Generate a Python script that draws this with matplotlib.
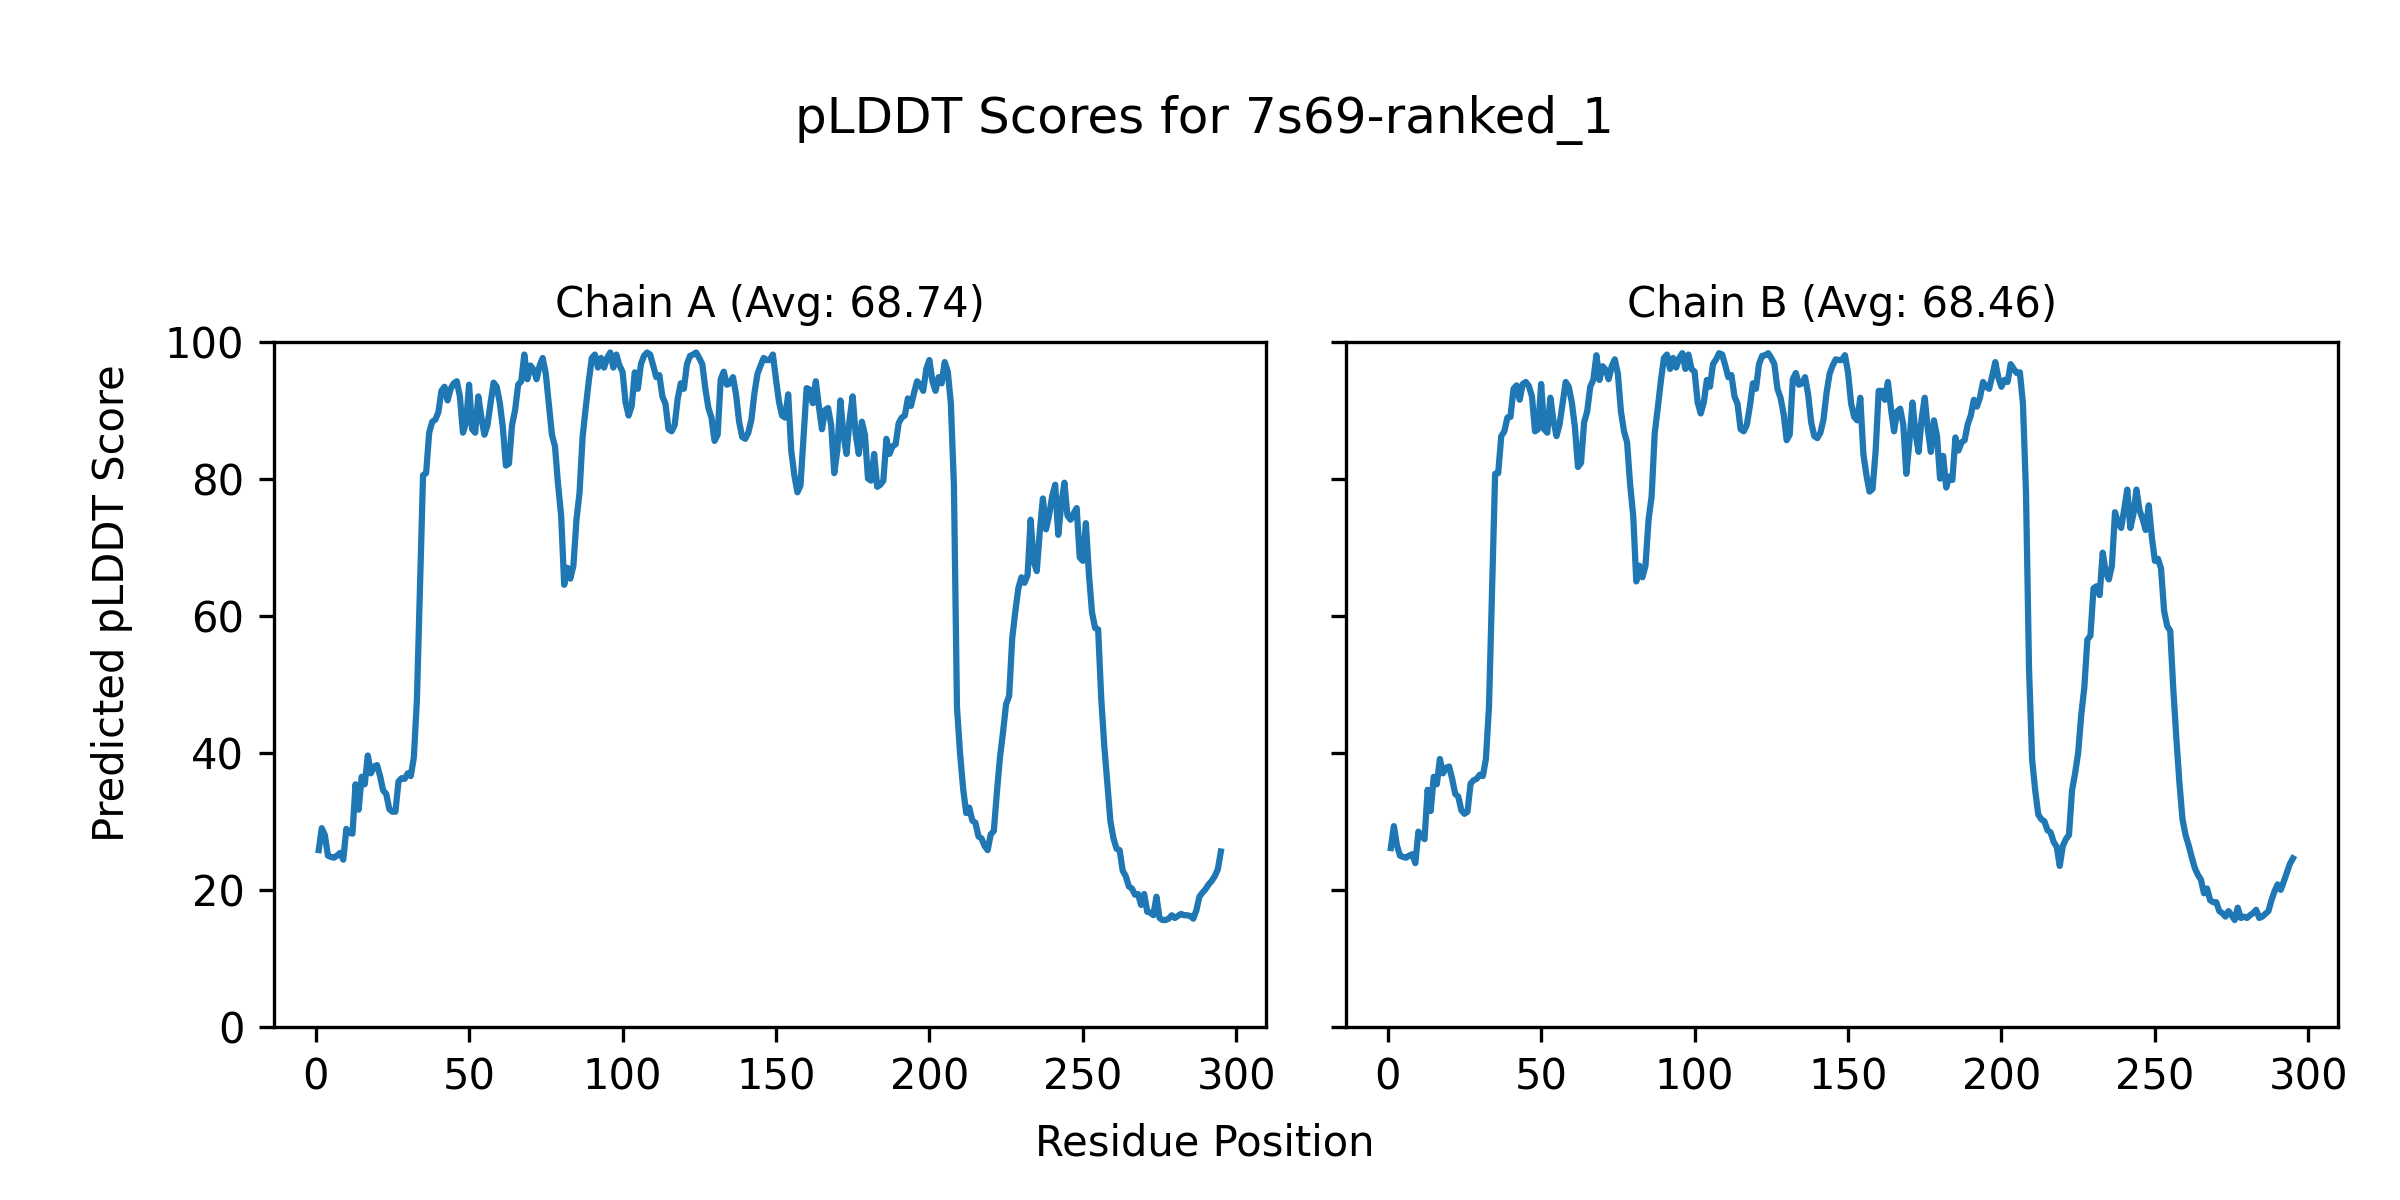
import numpy as np
import matplotlib
matplotlib.use("Agg")
import matplotlib.pyplot as plt

title = "pLDDT Scores for 7s69-ranked_1"
chain_titles = ["Chain A (Avg: 68.74)", "Chain B (Avg: 68.46)"]
x_label = "Residue Position"
y_label = "Predicted pLDDT Score"

chain_a = [
    25.8, 29.0, 28.0, 25.0, 24.8, 24.7, 25.0, 25.4, 24.4, 28.9,
    28.3, 28.2, 35.4, 31.7, 36.5, 35.4, 39.6, 37.0, 38.0, 38.2,
    36.6, 34.5, 34.0, 31.8, 31.4, 31.4, 35.8, 36.3, 36.2, 37.0,
    36.6, 39.3, 47.7, 64.0, 80.5, 80.8, 86.7, 88.3, 88.6, 89.7,
    92.8, 93.4, 91.4, 93.1, 93.9, 94.2, 92.0, 86.7, 88.1, 93.7,
    87.2, 86.7, 92.0, 89.0, 86.4, 87.8, 91.0, 94.0, 93.4, 91.1,
    87.5, 81.9, 82.2, 87.8, 90.0, 93.7, 94.2, 98.1, 94.5, 96.5,
    95.9, 94.5, 96.5, 97.6, 95.3, 90.9, 86.4, 84.7, 79.1, 74.6,
    64.5, 67.0, 65.4, 67.3, 74.0, 78.0, 86.1, 90.3, 94.2, 97.6,
    98.1, 96.2, 97.6, 96.2, 97.6, 98.4, 96.2, 98.1, 96.5, 95.6,
    91.1, 89.2, 90.6, 95.5, 93.1, 96.7, 97.9, 98.4, 98.1, 96.5,
    94.8, 95.1, 92.0, 90.9, 87.2, 86.9, 87.8, 91.7, 93.9, 93.1,
    96.7, 97.9, 98.1, 98.4, 97.6, 96.7, 93.1, 90.3, 88.9, 85.5,
    86.4, 94.5, 95.6, 93.7, 93.9, 94.8, 92.3, 88.3, 86.1, 85.8,
    86.7, 88.6, 92.5, 95.3, 96.5, 97.6, 97.3, 97.3, 98.1, 94.5,
    91.2, 89.2, 88.9, 92.3, 84.0, 80.5, 78.0, 79.0, 86.0, 93.2,
    93.0, 91.0, 94.2, 90.5, 87.2, 90.0, 90.3, 87.8, 80.8, 84.1,
    91.4, 86.4, 83.6, 88.6, 92.0, 86.4, 83.6, 88.3, 86.4, 80.0,
    79.7, 83.6, 78.8, 79.1, 79.7, 85.8, 83.6, 84.7, 85.0, 88.1,
    88.9, 89.2, 91.7, 90.6, 92.5, 94.2, 93.7, 92.8, 96.0, 97.3,
    94.2, 92.8, 94.8, 93.9, 97.0, 95.6, 91.0, 79.0, 46.6, 39.9,
    34.8, 31.2, 32.0, 30.1, 29.8, 27.8, 27.5, 26.4, 25.8, 28.1,
    28.6, 34.2, 39.3, 43.0, 47.1, 48.3, 56.7, 60.6, 64.0, 65.6,
    64.8, 65.9, 74.0, 67.9, 66.5, 72.4, 77.1, 72.6, 74.6, 77.4,
    79.1, 71.8, 76.3, 79.4, 74.6, 74.0, 74.9, 75.7, 68.5, 68.0,
    73.5, 66.0, 60.5, 58.2, 58.0, 48.0, 41.0, 35.5, 30.0, 27.5,
    26.0, 25.8, 22.8, 22.0, 20.5, 20.2, 19.3, 19.4, 17.8, 19.4,
    16.8, 16.7, 16.3, 19.0, 15.9, 15.6, 15.6, 15.8, 16.3, 15.9,
    16.2, 16.5, 16.3, 16.3, 16.2, 15.8, 17.0, 19.0, 19.6, 20.1,
    20.8, 21.3, 22.0, 23.0, 25.6,
]

chain_b = [
    26.1, 29.3, 26.5, 25.0, 24.8, 24.7, 25.0, 25.2, 23.9, 28.5,
    27.8, 27.4, 34.6, 31.5, 36.5, 35.4, 39.1, 37.0, 37.8, 38.0,
    36.2, 34.0, 33.6, 31.6, 31.1, 31.4, 35.5, 36.0, 36.2, 36.8,
    36.6, 39.1, 46.7, 64.0, 80.7, 80.8, 86.2, 86.9, 88.9, 89.0,
    93.1, 93.6, 91.5, 93.8, 94.1, 93.5, 92.0, 86.9, 87.2, 93.8,
    87.2, 86.7, 91.8, 88.5, 86.2, 87.9, 91.0, 94.1, 93.4, 91.1,
    87.5, 81.7, 82.3, 88.2, 89.8, 93.4, 94.4, 98.0, 94.4, 96.4,
    95.9, 94.5, 96.4, 97.4, 95.3, 89.8, 86.9, 85.3, 79.1, 74.6,
    65.0, 67.3, 65.6, 67.3, 74.0, 77.4, 86.6, 90.3, 94.2, 97.6,
    98.1, 96.0, 97.6, 96.2, 97.6, 98.3, 96.0, 98.1, 96.0, 95.6,
    91.1, 89.5, 91.1, 94.4, 93.4, 96.7, 97.4, 98.3, 98.1, 96.5,
    94.8, 95.1, 92.0, 90.9, 87.2, 86.9, 87.8, 90.5, 93.9, 93.1,
    96.7, 97.9, 98.0, 98.3, 97.6, 96.7, 93.1, 91.8, 89.5, 85.6,
    86.4, 94.5, 95.4, 93.7, 93.9, 94.8, 92.3, 88.2, 86.2, 85.9,
    86.7, 88.6, 92.5, 95.3, 96.5, 97.4, 97.3, 97.3, 98.0, 95.5,
    91.0, 89.0, 88.5, 91.8, 83.6, 80.5, 78.1, 78.5, 84.0, 92.8,
    92.8, 91.5, 94.1, 90.2, 86.9, 89.8, 90.2, 87.9, 80.7, 85.3,
    91.1, 86.6, 83.9, 88.8, 91.8, 87.2, 83.9, 88.5, 86.2, 80.0,
    83.3, 78.7, 80.3, 79.8, 86.0, 84.1, 85.3, 85.6, 87.9, 89.2,
    91.5, 90.5, 91.8, 94.1, 93.4, 93.1, 95.0, 97.0, 94.7, 93.4,
    94.4, 94.1, 96.7, 96.0, 95.4, 95.5, 91.0, 78.0, 52.0, 39.0,
    34.5, 31.0, 30.3, 30.0, 28.7, 28.4, 27.0, 26.3, 23.5, 26.4,
    27.4, 28.0, 34.5, 37.0, 40.0, 45.5, 49.5, 56.5, 57.1, 64.0,
    64.3, 63.0, 69.2, 66.3, 65.3, 67.3, 75.1, 73.5, 72.8, 75.5,
    78.4, 72.8, 74.8, 78.4, 75.4, 74.1, 72.5, 76.1, 71.5, 68.0,
    68.3, 66.9, 60.7, 58.5, 57.8, 49.3, 42.1, 35.6, 30.3, 28.0,
    26.5, 24.8, 23.2, 22.2, 21.5, 19.5, 20.2, 18.5, 18.2, 18.2,
    16.9, 16.6, 16.1, 16.9, 16.3, 15.6, 17.4, 15.9, 16.1, 15.9,
    16.3, 16.6, 17.1, 15.9, 16.1, 16.5, 16.9, 18.5, 19.8, 20.8,
    20.0, 21.2, 22.5, 23.8, 24.6,
]

residues_a = np.arange(1, len(chain_a) + 1)
residues_b = np.arange(1, len(chain_b) + 1)

fig = plt.figure(figsize=(8, 4), dpi=300)
ax_a = fig.add_axes([0.114, 0.1442, 0.4135, 0.5712])
ax_b = fig.add_axes([0.5607, 0.1442, 0.4135, 0.5712], sharey=ax_a)

for ax, res, vals, t in [(ax_a, residues_a, chain_a, chain_titles[0]),
                         (ax_b, residues_b, chain_b, chain_titles[1])]:
    ax.plot(res, vals, color="#1f77b4", linewidth=1.5)
    ax.set_title(t, fontsize=10)
    ax.set_ylim(0, 100)
    ax.set_xticks([0, 50, 100, 150, 200, 250, 300])

ax_a.set_yticks([0, 20, 40, 60, 80, 100])
plt.setp(ax_b.get_yticklabels(), visible=False)

fig.text(0.502, 0.9, title, ha="center", va="center", fontsize=12)
fig.text(0.502, 0.0475, x_label, ha="center", va="center", fontsize=10)
fig.text(0.0467, 0.497, y_label, ha="center", va="center", rotation=90, fontsize=10)

fig.savefig("out.png", dpi=300)
